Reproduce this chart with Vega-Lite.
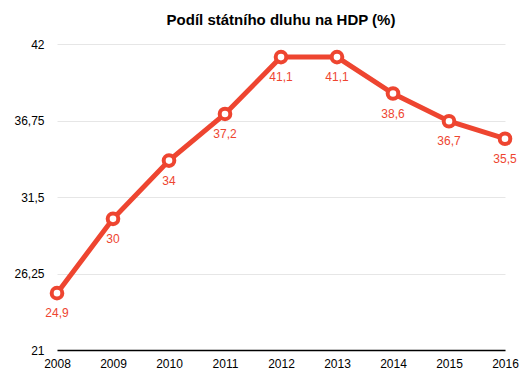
{
  "$schema": "https://vega.github.io/schema/vega-lite/v6.json",
  "width": 448,
  "height": 306,
  "autosize": {"type": "none"},
  "padding": {"left": 57, "top": 44, "right": 23, "bottom": 26},
  "background": "white",
  "config": {
    "locale": {"number": {"decimal": ",", "thousands": " ", "grouping": [3], "currency": ["", " Kč"]}},
    "font": "Liberation Sans",
    "view": {"stroke": null}
  },
  "title": {
    "text": "Podíl státního dluhu na HDP (%)",
    "fontSize": 15,
    "fontWeight": "bold",
    "color": "#000000",
    "font": "Liberation Sans",
    "anchor": "middle",
    "offset": 10
  },
  "data": {
    "values": [
      {"year": "2008", "value": 24.9},
      {"year": "2009", "value": 30},
      {"year": "2010", "value": 34},
      {"year": "2011", "value": 37.2},
      {"year": "2012", "value": 41.1},
      {"year": "2013", "value": 41.1},
      {"year": "2014", "value": 38.6},
      {"year": "2015", "value": 36.7},
      {"year": "2016", "value": 35.5}
    ]
  },
  "encoding": {
    "x": {
      "field": "year",
      "type": "ordinal",
      "scale": {"type": "point", "padding": 0},
      "axis": {
        "title": null,
        "labelAngle": 0,
        "ticks": false,
        "labelPadding": 8,
        "labelFontSize": 12,
        "labelColor": "#000000",
        "domainColor": "#000000",
        "domainWidth": 1.5,
        "grid": false
      }
    },
    "y": {
      "field": "value",
      "type": "quantitative",
      "scale": {"domain": [21, 42], "nice": false, "zero": false},
      "axis": {
        "title": null,
        "values": [21, 26.25, 31.5, 36.75, 42],
        "format": ".4~g",
        "ticks": false,
        "domain": false,
        "labelPadding": 13,
        "labelFontSize": 12,
        "labelColor": "#000000",
        "gridColor": "#e6e6e6",
        "gridWidth": 1
      }
    }
  },
  "layer": [
    {
      "mark": {"type": "line", "color": "#ee4530", "strokeWidth": 5}
    },
    {
      "mark": {"type": "point", "shape": "circle", "filled": true, "fill": "white", "stroke": "#ee4530", "strokeWidth": 4, "size": 113, "opacity": 1}
    },
    {
      "mark": {"type": "text", "dy": 20, "baseline": "middle", "fontSize": 12, "color": "#ee4530"},
      "encoding": {"text": {"field": "value", "type": "quantitative", "format": ".3~g"}}
    }
  ]
}
